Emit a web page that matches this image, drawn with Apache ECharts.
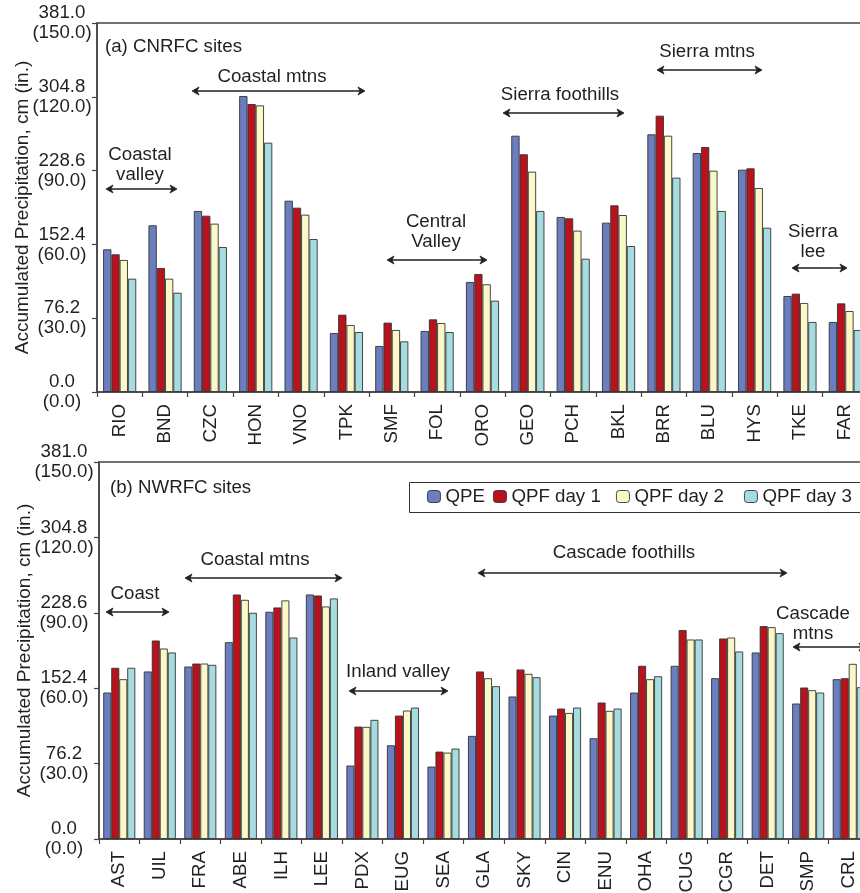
<!DOCTYPE html>
<html><head><meta charset="utf-8">
<script src="https://cdn.jsdelivr.net/npm/echarts@6/dist/echarts.min.js"></script>
<style>html,body{margin:0;padding:0;overflow:hidden;background:#fff}#c{width:880px;height:893px}</style>
</head><body><div id="c"></div>
<script>
// ---- data (cm) ----
const seriesNames = ['QPE', 'QPF day 1', 'QPF day 2', 'QPF day 3'];
const sitesA = ['RIO','BND','CZC','HON','VNO','TPK','SMF','FOL','ORO','GEO','PCH','BKL','BRR','BLU','HYS','TKE','FAR'];
const qpeA  = [147.3,172.1,186.9,305.6,197.5,60.9,47.5,63.0,113.6,264.6,180.7,174.8,266.0,246.7,229.5,99.1,72.3];
const day1A = [142.1,128.0,182.0,297.3,190.3,79.8,71.6,75.0,121.8,245.4,179.3,192.7,285.3,252.9,230.9,101.5,91.5];
const day2A = [136.3,117.0,173.8,295.9,183.1,69.2,64.0,71.2,111.2,227.5,166.6,182.7,264.6,228.5,210.6,91.9,83.6];
const day3A = [117.0,102.5,149.7,257.4,157.9,61.9,52.3,61.9,94.3,186.9,137.6,150.7,221.3,186.9,169.6,72.3,64.0];
const sitesB = ['AST','UIL','FRA','ABE','ILH','LEE','PDX','EUG','SEA','GLA','SKY','CIN','ENU','OHA','CUG','CGR','DET','SMP','CRL'];
const qpeB  = [148.0,169.3,174.3,198.9,229.6,247.1,74.2,94.7,73.2,104.2,144.0,124.7,101.8,148.0,175.0,162.5,188.5,136.9,161.5];
const day1B = [173.0,200.6,177.3,247.1,234.0,246.1,113.6,124.7,88.3,169.3,171.3,131.8,137.9,175.0,211.1,202.6,215.1,153.1,162.5];
const day2B = [161.5,192.5,177.3,241.7,241.1,235.0,113.3,129.8,87.3,162.5,166.9,127.4,129.5,161.5,201.6,203.6,214.1,150.4,177.0];
const day3B = [173.0,188.5,176.0,228.6,203.6,243.1,120.4,132.8,91.4,154.4,163.5,132.8,131.8,164.5,201.6,189.5,208.0,148.0,153.4];
const cmTicks = ['0.0','76.2','152.4','228.6','304.8','381.0'];
const inTicks = ['(0.0)','(30.0)','(60.0)','(90.0)','(120.0)','(150.0)'];
const yTitle = 'Accumulated Precipitation, cm (in.)';

const colors = ['#6b7ec0', '#b8121c', '#fbf7c6', '#a6dcdf'];
const ink = '#231f20';
const FONT = 'Liberation Sans';
const FS = 18.7;

function yAxis(gi) {
  return {
    gridIndex: gi, type: 'value', min: 0, max: 381, interval: 76.2,
    name: yTitle, nameLocation: 'middle', nameGap: 65, nameRotate: 90, nameMoveOverlap: false,
    nameTextStyle: { fontSize: 19, color: ink, fontFamily: FONT },
    axisLine: { show: true, lineStyle: { color: '#444', width: 1.5 } },
    axisTick: { show: true, length: 5, lineStyle: { color: '#444', width: 1.2 } },
    splitLine: { show: false },
    axisLabel: {
      margin: 35, align: 'center', fontSize: FS, lineHeight: 20, color: ink, fontFamily: FONT,
      formatter: v => { const i = Math.round(v / 76.2); return cmTicks[i] + '\n' + inTicks[i]; }
    }
  };
}
function xAxis(gi, cats) {
  return {
    gridIndex: gi, type: 'category', data: cats,
    axisLine: { show: true, lineStyle: { color: '#444', width: 1.5 } },
    axisTick: { show: true, length: 5, lineStyle: { color: '#444', width: 1.2 } },
    axisLabel: { rotate: 90, margin: 12, fontSize: FS, color: ink, fontFamily: FONT, interval: 0 }
  };
}
function bars(gi, arrs, gap) {
  return arrs.map((d, i) => ({
    name: seriesNames[i], type: 'bar', xAxisIndex: gi, yAxisIndex: gi, data: d,
    barGap: '0%', barCategoryGap: gap,
    itemStyle: { color: colors[i], borderColor: '#333', borderWidth: 0.9 },
    emphasis: { disabled: true }, animation: false
  }));
}
function arrow(x1, x2, y) {
  const c = ink;
  return [
    { type: 'line', shape: { x1: x1 + 2, y1: y, x2: x2 - 2, y2: y }, style: { stroke: c, lineWidth: 1.6 }, z: 100 },
    { type: 'polygon', shape: { points: [[x1, y], [x1 + 7, y - 4], [x1 + 5, y], [x1 + 7, y + 4]] }, style: { fill: c, stroke: c, lineWidth: 0.8 }, z: 100 },
    { type: 'polygon', shape: { points: [[x2, y], [x2 - 7, y - 4], [x2 - 5, y], [x2 - 7, y + 4]] }, style: { fill: c, stroke: c, lineWidth: 0.8 }, z: 100 }
  ];
}
function label(text, x, y, align) {
  return { type: 'text', x: x, y: y, z: 100,
    style: { text: text, fill: ink, font: FS + 'px "' + FONT + '"', textAlign: align || 'center', textVerticalAlign: 'middle', lineHeight: 20 } };
}

const graphics = [].concat(
  [label('(a) CNRFC sites', 105, 47, 'left')],
  [label('Coastal\nvalley', 140, 165)], arrow(106, 177, 189),
  [label('Coastal mtns', 272, 77)], arrow(192, 365, 91),
  [label('Central\nValley', 436, 232)], arrow(387, 487, 260),
  [label('Sierra foothills', 560, 95)], arrow(503, 624, 113),
  [label('Sierra mtns', 707, 52)], arrow(657, 762, 70),
  [label('Sierra\nlee', 813, 242)], arrow(792, 847, 268),
  [label('(b) NWRFC sites', 110, 488, 'left')],
  [label('Coast', 135, 594)], arrow(106, 169, 612),
  [label('Coastal mtns', 255, 560)], arrow(185, 342, 578),
  [label('Inland valley', 398, 672)], arrow(349, 448, 691),
  [label('Cascade foothills', 624, 553)], arrow(478, 787, 573),
  [label('Cascade\nmtns', 813, 624)], arrow(793, 866, 647),
  [{ type: 'rect', shape: { x: 409.5, y: 482.5, width: 470, height: 30 }, style: { fill: 'none', stroke: '#333', lineWidth: 1 }, z: 90 }]
);

const legendLefts = [427, 493, 616, 744];
const legends = seriesNames.map((n, i) => ({
  data: [n], left: legendLefts[i], top: 487, padding: 0,
  itemWidth: 13, itemHeight: 12, selectedMode: false,
  textStyle: { fontSize: FS, color: ink, fontFamily: FONT },
  itemStyle: { borderColor: '#333', borderWidth: 0.9 }
}));

const chart = echarts.init(document.getElementById('c'), null, { renderer: 'canvas' });
chart.setOption({
  animation: false,
  textStyle: { fontFamily: FONT },
  grid: [
    { left: 97, top: 23, width: 771, height: 369, containLabel: false, outerBoundsMode: 'none', show: true, borderColor: '#444', borderWidth: 1.5, backgroundColor: 'transparent' },
    { left: 99, top: 462, width: 770, height: 377, containLabel: false, outerBoundsMode: 'none', show: true, borderColor: '#444', borderWidth: 1.5, backgroundColor: 'transparent' }
  ],
  legend: legends,
  xAxis: [xAxis(0, sitesA), xAxis(1, sitesB)],
  yAxis: [yAxis(0), yAxis(1)],
  series: [].concat(bars(0, [qpeA, day1A, day2A, day3A], '27%'), bars(1, [qpeB, day1B, day2B, day3B], '21%')),
  graphic: graphics
});
</script></body></html>
